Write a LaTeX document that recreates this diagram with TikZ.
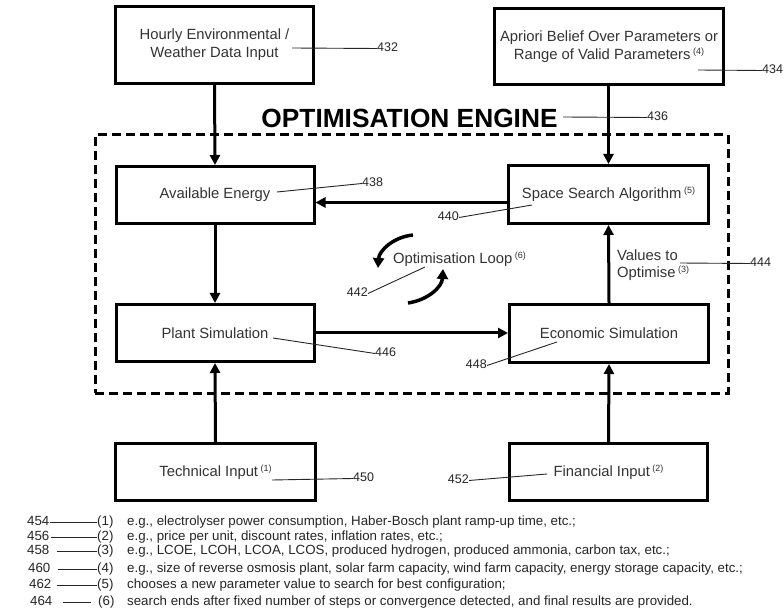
\documentclass[tikz,border=0pt]{standalone}
\usepackage{fontspec}
\setmainfont{Liberation Sans}
\usetikzlibrary{arrows.meta,calc}
\tikzset{
  box/.style={draw, line width=3pt, inner sep=0pt, align=center,
    font=\fontsize{14.8}{18}\selectfont, text=black!80},
  engine/.style={draw, line width=3pt, dash pattern=on 9pt off 5pt, inner sep=0pt},
  arr/.style={line width=3pt, -{Triangle[length=10pt,width=10pt]}},
  looparr/.style={line width=3.5pt, -{Triangle[length=10pt,width=11pt]}},
  lead/.style={line width=0.9pt, black!85},
  lbl/.style={inner sep=0pt, font=\fontsize{12.5}{12.5}\selectfont, text=black!85},
  fn/.style={inner sep=0pt, anchor=mid west, font=\fontsize{13.3}{13.3}\selectfont, text=black!85},
  plain/.style={inner sep=0pt, font=\fontsize{14.8}{17}\selectfont, text=black!80},
  titletext/.style={inner sep=0pt, font=\fontsize{26.3}{26.3}\selectfont\bfseries},
}
\newcommand{\supn}[1]{\,\raisebox{5pt}{\fontsize{9}{9}\selectfont(#1)}}
\begin{document}
\begin{tikzpicture}[x=1pt,y=-1pt]
\useasboundingbox (0,0) rectangle (784,609);
\fill[white] (0,0) rectangle (784,609);

% engine frame and title
\node[engine, minimum width=633pt, minimum height=258pt] (engine) at (411.5,264) {};
\node[titletext] (title) at (409.5,118.5) {OPTIMISATION ENGINE};

% boxes
\node[box, minimum width=198pt, minimum height=77pt] (hourly) at (214.5,45) {Hourly Environmental /\\Weather Data Input};
\node[box, minimum width=229pt, minimum height=76pt] (apriori) at (609,46.5) {Apriori Belief Over Parameters or\\Range of Valid Parameters\supn{4}};
\node[box, minimum width=198pt, minimum height=57pt] (avail) at (215,195) {Available Energy};
\node[box, minimum width=200pt, minimum height=58pt] (space) at (608.5,194.5) {Space Search Algorithm\supn{5}};
\node[box, minimum width=198pt, minimum height=57pt] (plant) at (215,333) {Plant Simulation};
\node[box, minimum width=199pt, minimum height=58pt] (econ) at (609,333.5) {Economic Simulation};
\node[box, minimum width=200pt, minimum height=57pt] (tech) at (215.5,472) {Technical Input\supn{1}};
\node[box, minimum width=198pt, minimum height=57pt] (fin) at (608.5,472) {Financial Input\supn{2}};

% connectors
\draw[arr] (hourly.south) -- (avail.north);
\draw[arr] (apriori.south -| space.north) -- (space.north);
\draw[arr] ([yshift=-8pt]space.west) -- ([yshift=-8pt]space.west -| avail.east);
\draw[arr] (avail.south) -- (plant.north);
\draw[arr] (plant.east) -- (plant.east -| econ.west);
\draw[arr] (econ.north) -- (space.south);
\draw[arr] (tech.north) -- (plant.south);
\draw[arr] (fin.north) -- (econ.south);

% free texts
\node[plain, align=left, anchor=west] (values) at (617,265.5) {Values to\\Optimise\supn{3}};
\node[plain] (loop) at (459.5,259) {Optimisation Loop\supn{6}};

% optimisation loop arrows
\coordinate (la1) at (413,235);
\coordinate (la2) at (378,268);
\coordinate (lb1) at (408,303);
\coordinate (lb2) at (443,269);
\draw[looparr] (la1) .. controls (393,237) and (379,251) .. (la2);
\draw[looparr] (lb1) .. controls (428,300) and (442,287) .. (lb2);

% reference numerals
\coordinate (c432) at (292,48);
\node[lbl, anchor=mid west] (l432) at (377,48.5) {432};
\draw[lead] (c432) -- (l432.mid west);

\coordinate (c434) at (698,70);
\node[lbl, anchor=mid west] (l434) at (762,70.5) {434};
\draw[lead] (c434) -- (l434.mid west);

\coordinate (c436) at (563,117);
\node[lbl, anchor=mid west] (l436) at (647,117.5) {436};
\draw[lead] (c436) -- (l436.mid west);

\coordinate (c438) at (277,192);
\node[lbl, anchor=mid west] (l438) at (362,183.5) {438};
\draw[lead] (c438) -- (l438.mid west);

\coordinate (c440) at (532,205);
\node[lbl, anchor=mid east] (l440) at (459,217.5) {440};
\draw[lead] (l440.mid east) -- (c440);

\coordinate (c442) at (425,267);
\node[lbl, anchor=mid east] (l442) at (368,293.5) {442};
\draw[lead] (l442.mid east) -- (c442);

\coordinate (c444) at (680,263);
\node[lbl, anchor=mid west] (l444) at (750,263.5) {444};
\draw[lead] (c444) -- (l444.mid west);

\coordinate (c446) at (273,338);
\node[lbl, anchor=mid west] (l446) at (375,353.5) {446};
\draw[lead] (c446) -- (l446.mid west);

\coordinate (c448) at (557,342);
\node[lbl, anchor=mid east] (l448) at (487,365.5) {448};
\draw[lead] (l448.mid east) -- (c448);

\coordinate (c450) at (272,480);
\node[lbl, anchor=mid west] (l450) at (353,478.5) {450};
\draw[lead] (c450) -- (l450.mid west);

\coordinate (c452) at (547,474);
\node[lbl, anchor=mid east] (l452) at (469,480.5) {452};
\draw[lead] (l452.mid east) -- (c452);

% footnotes
\node[fn] (f454) at (27,522.5) {454};
\node[fn] (p1) at (97,522.5) {(1)};
\node[fn] (t1) at (127,522.5) {e.g., electrolyser power consumption, Haber-Bosch plant ramp-up time, etc.;};
\draw[lead] (f454.mid east) -- (p1.mid west);

\node[fn] (f456) at (27,537.5) {456};
\node[fn] (p2) at (97,537.5) {(2)};
\node[fn] (t2) at (127,537.5) {e.g., price per unit, discount rates, inflation rates, etc.;};
\draw[lead] ([xshift=1pt]f456.mid east) -- (p2.mid west);

\node[fn] (f458) at (27,551.5) {458};
\node[fn] (p3) at (97,551.5) {(3)};
\node[fn] (t3) at (127,551.5) {e.g., LCOE, LCOH, LCOA, LCOS, produced hydrogen, produced ammonia, carbon tax, etc.;};
\draw[lead] ([xshift=7pt]f458.mid east) -- (p3.mid west);

\node[fn] (f460) at (28,569.5) {460};
\node[fn] (p4) at (97,569.5) {(4)};
\node[fn] (t4) at (127,569.5) {e.g., size of reverse osmosis plant, solar farm capacity, wind farm capacity, energy storage capacity, etc.;};
\draw[lead] ([xshift=7pt]f460.mid east) -- (p4.mid west);

\node[fn] (f462) at (29,585.5) {462};
\node[fn] (p5) at (97,585.5) {(5)};
\node[fn] (t5) at (127,585.5) {chooses a new parameter value to search for best configuration;};
\draw[lead] ([xshift=5pt]f462.mid east) -- (p5.mid west);

\node[fn] (f464) at (30,602.5) {464};
\node[fn] (p6) at (98,602.5) {(6)};
\node[fn] (t6) at (127,602.5) {search ends after fixed number of steps or convergence detected, and final results are provided.};
\draw[lead] ([xshift=10pt]f464.mid east) -- ([xshift=-7pt]p6.mid west);
\end{tikzpicture}
\end{document}
